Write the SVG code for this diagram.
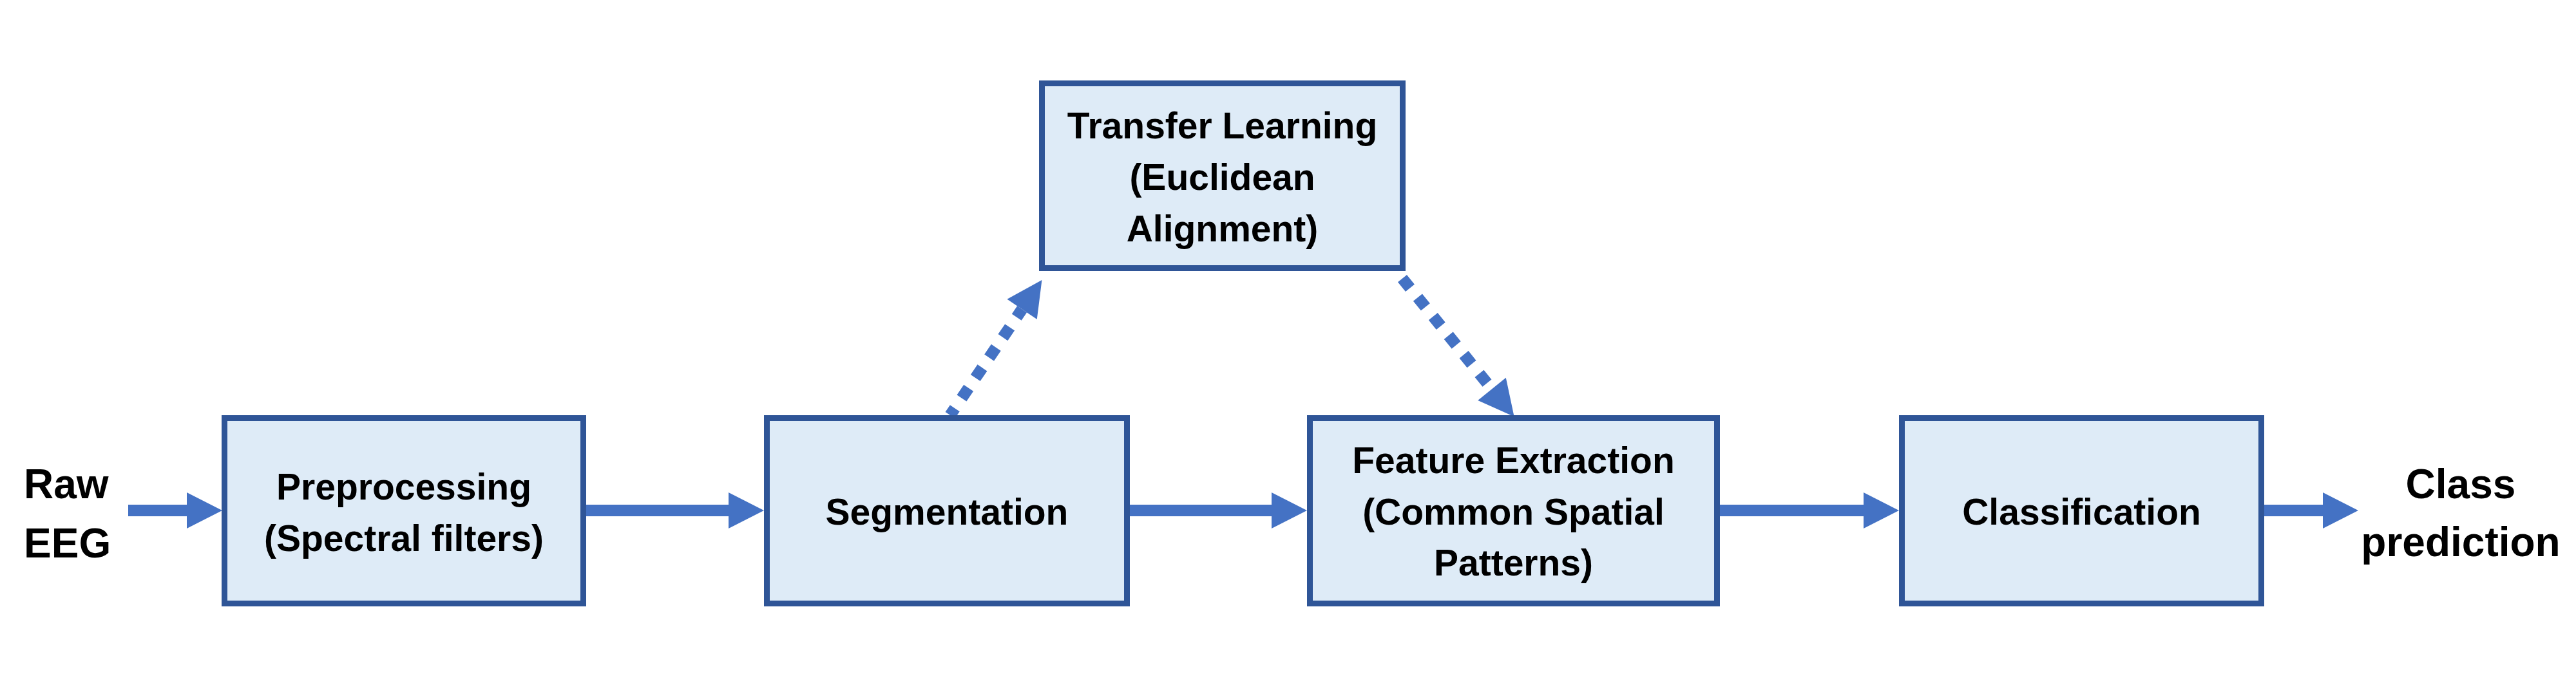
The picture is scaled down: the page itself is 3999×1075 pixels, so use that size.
<svg xmlns="http://www.w3.org/2000/svg" width="3999" height="1075" viewBox="0 0 3999 1075">
<style>
.box{fill:#DEEBF7;stroke:#2F5597;stroke-width:9}
.lbl{font-family:"Liberation Sans",Arial,sans-serif;font-weight:bold;font-size:57px;fill:#000;text-anchor:middle}
.out{font-family:"Liberation Sans",Arial,sans-serif;font-weight:bold;font-size:64px;fill:#000}
.solid{fill:none;stroke:#4472C4;stroke-width:18;marker-end:url(#head)}
.dot{fill:none;stroke:#4472C4;stroke-width:18;stroke-dasharray:19 19;marker-end:url(#head)}
</style>
<defs>
<marker id="head" markerUnits="userSpaceOnUse" markerWidth="56" markerHeight="58" refX="0" refY="28" orient="auto" overflow="visible">
<path d="M0,0 L55,28 L0,56 Z" fill="#4472C4"/>
</marker>
</defs>
<rect width="3999" height="1075" fill="#FFFFFF"/>
<g id="connectors">
<line class="solid" x1="199" y1="793" x2="290" y2="793"/>
<line class="solid" x1="910" y1="793" x2="1131" y2="793"/>
<line class="solid" x1="1754" y1="793" x2="1974" y2="793"/>
<line class="solid" x1="2670" y1="793" x2="2893" y2="793"/>
<line class="solid" x1="3515" y1="793" x2="3606" y2="793"/>
<path class="dot" d="M1475,645 L1586.6,480.4" stroke-dashoffset="6"/>
<path class="dot" d="M2177,432.6 L2316,604.4"/>
</g>
<g id="raw-eeg">
<text class="out" x="37" y="774">Raw</text>
<text class="out" x="37" y="866">EEG</text>
</g>
<g id="preprocessing">
<rect class="box" x="348.5" y="649.5" width="557" height="288"/>
<text class="lbl" x="627" y="776">Preprocessing</text>
<text class="lbl" x="627" y="856">(Spectral filters)</text>
</g>
<g id="segmentation">
<rect class="box" x="1190.5" y="649.5" width="559" height="288"/>
<text class="lbl" x="1470" y="815">Segmentation</text>
</g>
<g id="transfer-learning">
<rect class="box" x="1617.5" y="129.5" width="560" height="287"/>
<text class="lbl" x="1897.5" y="215">Transfer Learning</text>
<text class="lbl" x="1897.5" y="295">(Euclidean</text>
<text class="lbl" x="1897.5" y="375">Alignment)</text>
</g>
<g id="feature-extraction">
<rect class="box" x="2033.5" y="649.5" width="632" height="288"/>
<text class="lbl" x="2349.5" y="735">Feature Extraction</text>
<text class="lbl" x="2349.5" y="815">(Common Spatial</text>
<text class="lbl" x="2349.5" y="894">Patterns)</text>
</g>
<g id="classification">
<rect class="box" x="2952.5" y="649.5" width="558" height="288"/>
<text class="lbl" x="3231.5" y="815">Classification</text>
</g>
<g id="class-prediction">
<text class="out" x="3820" y="774" text-anchor="middle">Class</text>
<text class="out" x="3820" y="864" text-anchor="middle">prediction</text>
</g>
</svg>
